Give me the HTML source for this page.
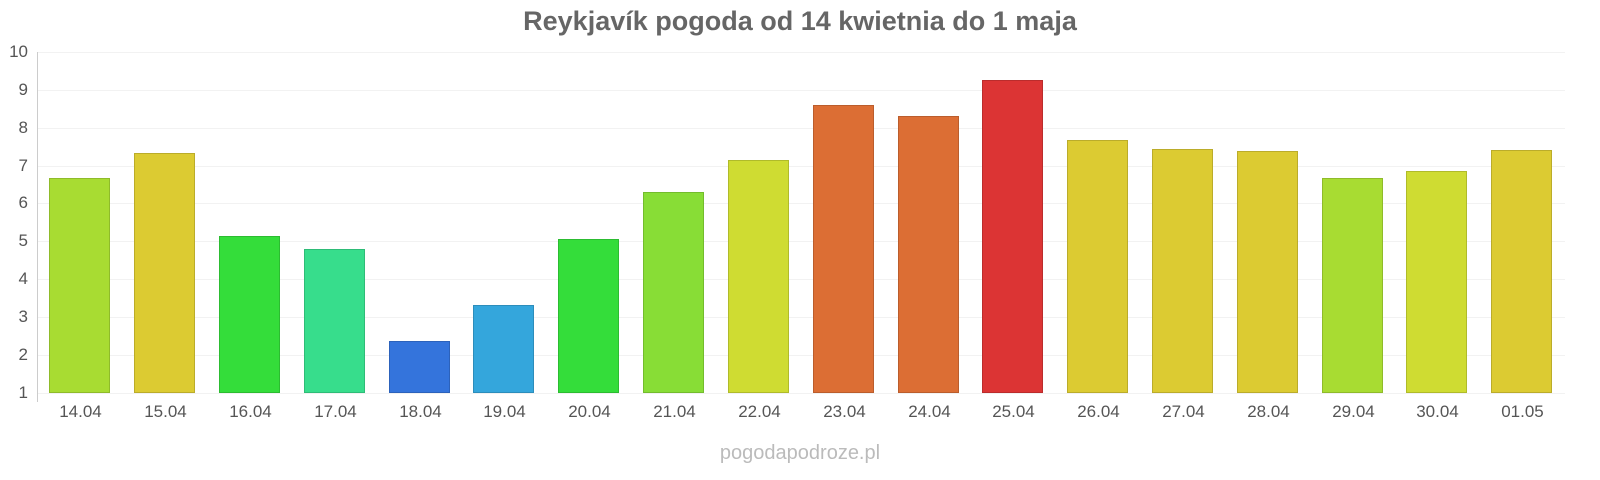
<!DOCTYPE html>
<html><head><meta charset="utf-8"><style>
body{margin:0;width:1600px;height:480px;background:#fff;font-family:"Liberation Sans",sans-serif;position:relative;overflow:hidden}
.t{position:absolute;left:0;width:1600px;top:6px;text-align:center;font-size:27px;font-weight:bold;color:#666}
.g{position:absolute;left:38px;width:1527px;height:1px;background:#f2f2f2}
.yl{position:absolute;left:0;width:28px;text-align:right;font-size:17px;color:#555}
.b{position:absolute;width:61px;box-sizing:border-box;border:1px solid rgba(0,0,0,0.15)}
.xl{position:absolute;width:85px;text-align:center;font-size:17px;color:#555;top:402px}
.f{position:absolute;top:442px;left:0;width:1600px;text-align:center;font-size:20px;color:#bbb}
</style></head><body>
<div class="t">Reykjavík pogoda od 14 kwietnia do 1 maja</div>
<div class="g" style="top:393px"></div><div class="yl" style="top:383px">1</div>
<div class="g" style="top:355px"></div><div class="yl" style="top:345px">2</div>
<div class="g" style="top:317px"></div><div class="yl" style="top:307px">3</div>
<div class="g" style="top:279px"></div><div class="yl" style="top:269px">4</div>
<div class="g" style="top:241px"></div><div class="yl" style="top:231px">5</div>
<div class="g" style="top:203px"></div><div class="yl" style="top:193px">6</div>
<div class="g" style="top:166px"></div><div class="yl" style="top:156px">7</div>
<div class="g" style="top:128px"></div><div class="yl" style="top:118px">8</div>
<div class="g" style="top:90px"></div><div class="yl" style="top:80px">9</div>
<div class="g" style="top:52px"></div><div class="yl" style="top:42px">10</div>
<div style="position:absolute;left:37px;top:52px;width:1px;height:350px;background:#ccc"></div>

<div class="b" style="left:49px;top:178px;height:215px;background:#a8dc32"></div><div class="xl" style="left:38px">14.04</div>
<div class="b" style="left:134px;top:153px;height:240px;background:#dccb32"></div><div class="xl" style="left:123px">15.04</div>
<div class="b" style="left:219px;top:236px;height:157px;background:#34dd3a"></div><div class="xl" style="left:208px">16.04</div>
<div class="b" style="left:304px;top:249px;height:144px;background:#37dd8c"></div><div class="xl" style="left:293px">17.04</div>
<div class="b" style="left:389px;top:341px;height:52px;background:#3474dc"></div><div class="xl" style="left:378px">18.04</div>
<div class="b" style="left:473px;top:305px;height:88px;background:#34a6dc"></div><div class="xl" style="left:462px">19.04</div>
<div class="b" style="left:558px;top:239px;height:154px;background:#34dd3a"></div><div class="xl" style="left:547px">20.04</div>
<div class="b" style="left:643px;top:192px;height:201px;background:#88dd36"></div><div class="xl" style="left:632px">21.04</div>
<div class="b" style="left:728px;top:160px;height:233px;background:#cfdc32"></div><div class="xl" style="left:717px">22.04</div>
<div class="b" style="left:813px;top:105px;height:288px;background:#dc6e34"></div><div class="xl" style="left:802px">23.04</div>
<div class="b" style="left:898px;top:116px;height:277px;background:#dc6e34"></div><div class="xl" style="left:887px">24.04</div>
<div class="b" style="left:982px;top:80px;height:313px;background:#dc3434"></div><div class="xl" style="left:971px">25.04</div>
<div class="b" style="left:1067px;top:140px;height:253px;background:#dccb32"></div><div class="xl" style="left:1056px">26.04</div>
<div class="b" style="left:1152px;top:149px;height:244px;background:#dccb32"></div><div class="xl" style="left:1141px">27.04</div>
<div class="b" style="left:1237px;top:151px;height:242px;background:#dccb32"></div><div class="xl" style="left:1226px">28.04</div>
<div class="b" style="left:1322px;top:178px;height:215px;background:#a8dc32"></div><div class="xl" style="left:1311px">29.04</div>
<div class="b" style="left:1406px;top:171px;height:222px;background:#cfdc32"></div><div class="xl" style="left:1395px">30.04</div>
<div class="b" style="left:1491px;top:150px;height:243px;background:#dccb32"></div><div class="xl" style="left:1480px">01.05</div>

<div class="f">pogodapodroze.pl</div>
</body></html>
